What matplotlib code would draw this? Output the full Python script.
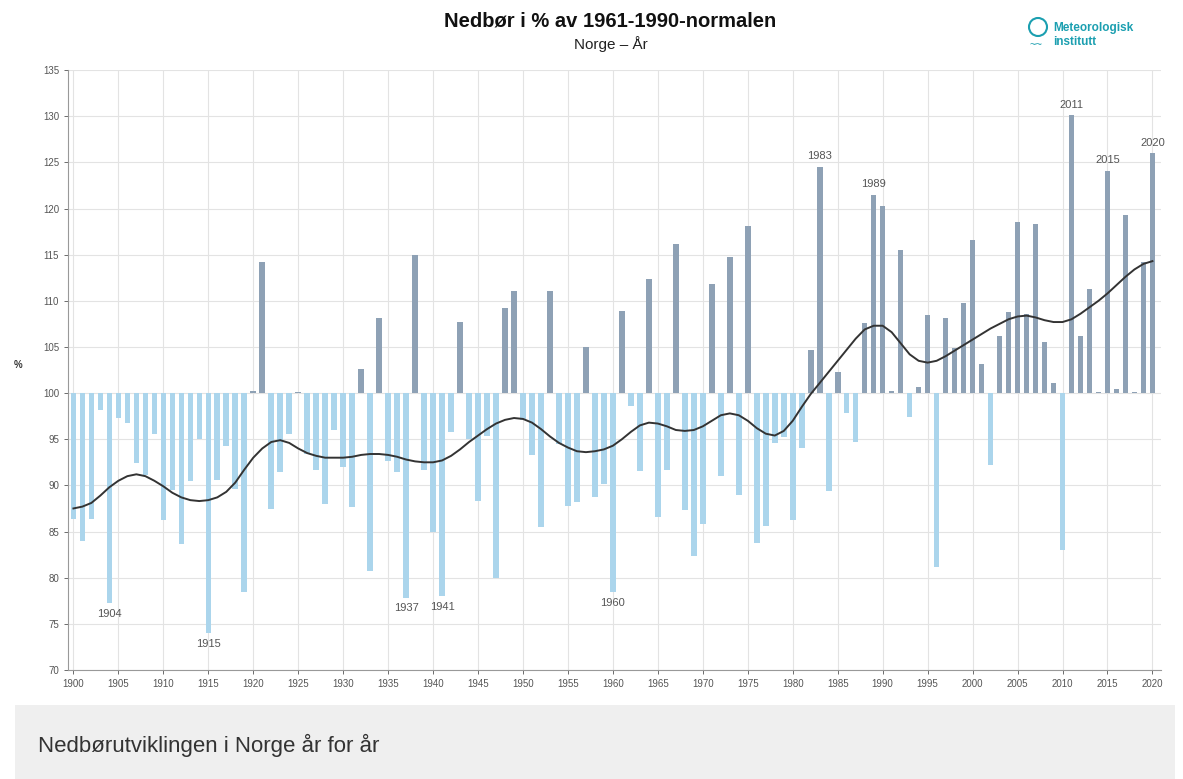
import matplotlib
matplotlib.use('Agg')
import matplotlib.pyplot as plt
from matplotlib.patches import Circle, Rectangle

plt.rcParams['font.family'] = ['Liberation Sans', 'DejaVu Sans']

years = list(range(1900, 2021))

# precipitation in % of 1961-1990 normal
values = [
    86.4, 84.0, 86.4, 98.2, 77.2, 97.3, 96.8, 92.4, 91.1, 95.6,   # 1900-1909
    86.2, 89.5, 83.7, 90.5, 95.0, 74.0, 90.6, 94.3, 89.6, 78.4,   # 1910-1919
    100.2, 114.2, 87.4, 91.4, 95.6, 100.15, 93.4, 91.7, 88.0, 96.0,  # 1920-1929
    92.0, 87.7, 102.6, 80.7, 108.1, 92.6, 91.4, 77.8, 115.0, 91.7,  # 1930-1939
    84.9, 78.0, 95.8, 107.7, 95.0, 88.3, 95.3, 80.0, 109.2, 111.1,  # 1940-1949
    97.1, 93.3, 85.5, 111.1, 94.5, 87.8, 88.2, 105.0, 88.7, 90.2,   # 1950-1959
    78.4, 108.9, 98.6, 91.6, 112.4, 86.6, 91.7, 116.2, 87.3, 82.4,  # 1960-1969
    85.8, 111.8, 91.0, 114.8, 89.0, 118.1, 83.8, 85.6, 94.6, 95.2,  # 1970-1979
    86.2, 94.0, 104.7, 124.5, 89.4, 102.3, 97.8, 94.7, 107.6, 121.5,  # 1980-1989
    120.3, 100.2, 115.5, 97.4, 100.7, 108.5, 81.2, 108.1, 104.9, 109.8,  # 1990-1999
    116.6, 103.2, 92.2, 106.2, 108.8, 118.5, 108.6, 118.3, 105.5, 101.1,  # 2000-2009
    83.0, 130.1, 106.2, 111.3, 100.1, 124.1, 100.4, 119.3, 100.1, 114.2,  # 2010-2019
    126.0,                                                          # 2020
]

# smoothed curve
smooth = [
    87.5, 87.7, 88.1, 88.9, 89.8, 90.5, 91.0, 91.2, 91.0, 90.5,
    89.9, 89.2, 88.7, 88.4, 88.3, 88.4, 88.7, 89.3, 90.3, 91.7,
    93.0, 94.0, 94.7, 94.9, 94.6, 94.0, 93.5, 93.2, 93.0, 93.0,
    93.0, 93.1, 93.3, 93.4, 93.4, 93.3, 93.1, 92.8, 92.6, 92.5,
    92.5, 92.7, 93.2, 93.9, 94.7, 95.4, 96.1, 96.7, 97.1, 97.3,
    97.2, 96.8, 96.1, 95.3, 94.6, 94.1, 93.7, 93.6, 93.7, 93.9,
    94.3, 95.0, 95.8, 96.5, 96.8, 96.7, 96.4, 96.0, 95.9, 96.0,
    96.4, 97.0, 97.6, 97.8, 97.6, 97.0, 96.2, 95.6, 95.4, 95.9,
    97.0, 98.5, 99.9, 101.1, 102.3, 103.5, 104.7, 105.9, 106.9, 107.3,
    107.3, 106.6, 105.4, 104.2, 103.5, 103.3, 103.5, 104.0, 104.6, 105.2,
    105.8, 106.4, 107.0, 107.5, 108.0, 108.3, 108.4, 108.2, 107.9, 107.7,
    107.7, 108.0, 108.6, 109.3, 110.0, 110.8, 111.7, 112.6, 113.4, 114.0,
    114.3,
]

labels_low = [1904, 1915, 1937, 1941, 1960]
labels_high = [1983, 1989, 2011, 2015, 2020]

pos_color = '#8ea1b5'
neg_color = '#abd5ec'

fig = plt.figure(figsize=(11.83, 7.79), dpi=100)
ax = fig.add_axes([0.0575, 0.14, 0.9235, 0.77])

heights = [v - 100 for v in values]
colors = [pos_color if v >= 100 else neg_color for v in values]
ax.bar(years, heights, bottom=100, width=0.62, color=colors, zorder=2)
ax.plot(years, smooth, color='#333333', lw=1.4, zorder=3)

for yr in labels_low:
    v = values[yr - 1900]
    ax.text(yr, v - 0.6, str(yr), ha='center', va='top', fontsize=8, color='#555555')
for yr in labels_high:
    v = values[yr - 1900]
    ax.text(yr, v + 0.6, str(yr), ha='center', va='bottom', fontsize=8, color='#555555')

ax.set_xlim(1899.4, 2020.9)
ax.set_ylim(70, 135)
ax.set_xticks(range(1900, 2021, 5))
ax.set_yticks(range(70, 136, 5))
ax.tick_params(labelsize=7, colors='#555555', length=3, width=0.6)
ax.grid(True, color='#e3e3e3', lw=0.8, zorder=0)
ax.set_axisbelow(True)
for s in ['top', 'right']:
    ax.spines[s].set_visible(False)
for s in ['left', 'bottom']:
    ax.spines[s].set_color('#999999')
    ax.spines[s].set_linewidth(0.8)
ax.set_ylabel('%', rotation=0, fontsize=7, fontweight='bold', color='#333333', labelpad=18)

fig.text(0.516, 0.973, 'Nedbør i % av 1961-1990-normalen', ha='center', va='center',
         fontsize=14.5, fontweight='bold', color='#111111')
fig.text(0.516, 0.944, 'Norge – År', ha='center', va='center', fontsize=11, color='#222222')

# logo
teal = '#1b9fb0'
fig.patches.append(Circle((10.38, 7.79 - 0.27), 0.09, transform=fig.dpi_scale_trans,
                          fill=False, edgecolor=teal, lw=1.5))
fig.text(1030 / 1183, 1 - 45 / 779, '~~', ha='left', va='center', fontsize=8, color=teal)
fig.text(1053 / 1183, 1 - 28 / 779, 'Meteorologisk', ha='left', va='center', fontsize=8.5,
         fontweight='bold', color=teal)
fig.text(1053 / 1183, 1 - 42 / 779, 'institutt', ha='left', va='center', fontsize=8.5,
         fontweight='bold', color=teal)

# footer box
fig.patches.append(Rectangle((15 / 1183, 0), 1160 / 1183, 74 / 779, transform=fig.transFigure,
                             facecolor='#efefef', edgecolor='none', zorder=0))
fig.text(38 / 1183, 1 - 745 / 779, 'Nedbørutviklingen i Norge år for år', ha='left', va='center',
         fontsize=16, color='#333333')

fig.savefig('out.png', dpi=100)
